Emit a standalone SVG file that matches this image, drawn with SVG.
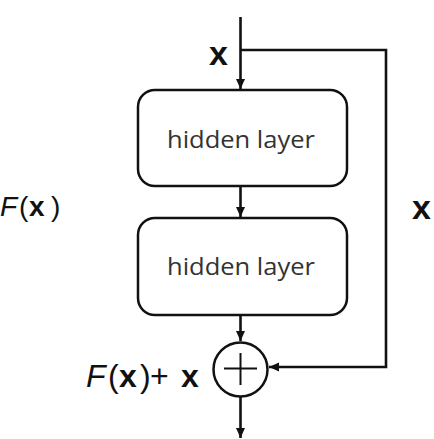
<svg xmlns="http://www.w3.org/2000/svg" width="434" height="439" viewBox="0 0 434 439">
  <style>
    .box { fill: #ffffff; stroke: #111111; stroke-width: 2.5; }
    .wire { fill: none; stroke: #111111; stroke-width: 2.6; }
    .layer { font-family: "Open Sans", "DejaVu Sans", sans-serif; font-size: 24px; fill: #333333; }
    .math { font-family: "Liberation Sans", Arial, sans-serif; fill: #111111; }
    .it { font-style: italic; }
    .bd { font-weight: bold; }
  </style>
  <defs>
    <marker id="head" markerUnits="userSpaceOnUse" markerWidth="12" markerHeight="12" viewBox="0 0 12 12" refX="11" refY="6" orient="auto">
      <path d="M1,1.5 L11,6 L1,10.5 Z" fill="#111111"/>
    </marker>
  </defs>

  <!-- connectors -->
  <g id="connectors">
    <line class="wire" x1="240.5" y1="17" x2="240.5" y2="89" marker-end="url(#head)"/>
    <line class="wire" x1="240.5" y1="186" x2="240.5" y2="217" marker-end="url(#head)"/>
    <line class="wire" x1="240.5" y1="315" x2="240.5" y2="341" marker-end="url(#head)"/>
    <polyline class="wire" points="240.5,50 386,50 386,367 269,367" marker-end="url(#head)"/>
    <line class="wire" x1="240.5" y1="397" x2="240.5" y2="438" marker-end="url(#head)"/>
  </g>

  <!-- first hidden layer -->
  <g id="layer1">
    <rect class="box" x="138" y="90" width="209" height="96" rx="17" ry="17"/>
    <text class="layer" x="241" y="147.5" text-anchor="middle" textLength="148" lengthAdjust="spacingAndGlyphs">hidden layer</text>
  </g>

  <!-- second hidden layer -->
  <g id="layer2">
    <rect class="box" x="138" y="218" width="209" height="97" rx="17" ry="17"/>
    <text class="layer" x="241" y="275" text-anchor="middle" textLength="148" lengthAdjust="spacingAndGlyphs">hidden layer</text>
  </g>

  <!-- addition node -->
  <g id="sum">
    <circle cx="240.5" cy="369.5" r="27" fill="#ffffff" stroke="#111111" stroke-width="2.5"/>
    <line x1="224" y1="368.5" x2="257" y2="368.5" stroke="#111111" stroke-width="2"/>
    <line x1="240.5" y1="353" x2="240.5" y2="385" stroke="#111111" stroke-width="2"/>
  </g>

  <!-- labels -->
  <g id="labels">
    <text class="math bd" x="209" y="65" font-size="34">x</text>
    <text class="math bd" x="412" y="219" font-size="34">x</text>
    <text class="math" y="216" font-size="28"><tspan class="it" x="0">F</tspan><tspan x="19">(</tspan><tspan class="bd" x="29">x</tspan><tspan x="51">)</tspan></text>
    <text class="math" y="387" font-size="32"><tspan class="it" x="86">F</tspan><tspan x="108">(</tspan><tspan class="bd" x="119">x</tspan><tspan x="140">)</tspan><tspan x="150">+</tspan><tspan class="bd" x="181">x</tspan></text>
  </g>
</svg>
